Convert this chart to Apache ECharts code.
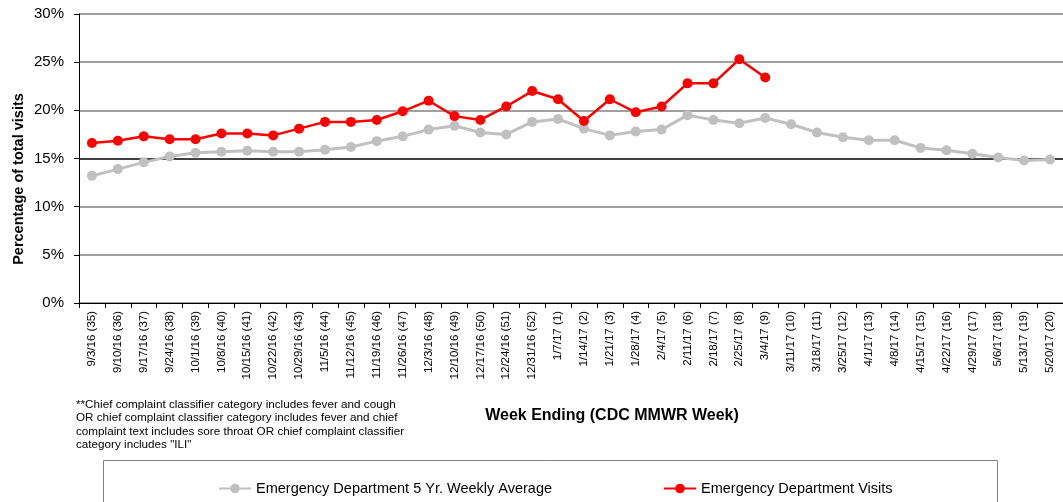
<!DOCTYPE html>
<html>
<head>
<meta charset="utf-8">
<script src="https://cdn.jsdelivr.net/npm/echarts@6/dist/echarts.min.js"></script>
<style>html,body{margin:0;padding:0;background:#fff;}#c{width:1063px;height:502px;}</style>
</head>
<body>
<div id="c"></div>
<script>
var categories = ['9/3/16 (35)','9/10/16 (36)','9/17/16 (37)','9/24/16 (38)','10/1/16 (39)','10/8/16 (40)','10/15/16 (41)','10/22/16 (42)','10/29/16 (43)','11/5/16 (44)','11/12/16 (45)','11/19/16 (46)','11/26/16 (47)','12/3/16 (48)','12/10/16 (49)','12/17/16 (50)','12/24/16 (51)','12/31/16 (52)','1/7/17 (1)','1/14/17 (2)','1/21/17 (3)','1/28/17 (4)','2/4/17 (5)','2/11/17 (6)','2/18/17 (7)','2/25/17 (8)','3/4/17 (9)','3/11/17 (10)','3/18/17 (11)','3/25/17 (12)','4/1/17 (13)','4/8/17 (14)','4/15/17 (15)','4/22/17 (16)','4/29/17 (17)','5/6/17 (18)','5/13/17 (19)','5/20/17 (20)'];
var avgValues = [13.2,13.9,14.6,15.2,15.6,15.7,15.8,15.7,15.7,15.9,16.2,16.8,17.3,18.0,18.4,17.7,17.5,18.8,19.1,18.1,17.4,17.8,18.0,19.5,19.0,18.65,19.2,18.55,17.7,17.2,16.9,16.9,16.1,15.85,15.5,15.1,14.8,14.9];
var visitValues = [16.6,16.85,17.3,17.0,17.0,17.6,17.6,17.4,18.1,18.8,18.8,19.0,19.9,21.0,19.4,19.0,20.4,22.0,21.15,18.9,21.15,19.8,20.4,22.8,22.8,25.3,23.4];
var seriesNames = ['Emergency Department 5 Yr. Weekly Average','Emergency Department Visits'];
var yAxisTitle = 'Percentage of total visits';
var xAxisTitle = 'Week Ending (CDC MMWR Week)';
var footnote = '**Chief complaint classifier category includes fever and cough\nOR chief complaint classifier category includes fever and chief\ncomplaint text includes sore throat OR chief complaint classifier\ncategory includes "ILI"';

var FONT = 'Liberation Sans, Arial, sans-serif';
var chart = echarts.init(document.getElementById('c'), null, {renderer:'canvas'});
chart.setOption({
  animation: false,
  backgroundColor: '#fff',
  grid: {left: 79, right: 0, top: 14, bottom: 199, containLabel: false},
  xAxis: {
    type: 'category',
    data: categories,
    boundaryGap: true,
    axisLine: {lineStyle: {color: '#000', width: 1}},
    axisTick: {show: true, length: 5, lineStyle: {color: '#000'}, alignWithLabel: false},
    axisLabel: {rotate: 90, interval: 0, margin: 8, color: '#000', fontSize: 11.5, fontFamily: FONT}
  },
  yAxis: {
    type: 'value',
    min: 0, max: 30, interval: 5,
    axisLine: {show: true, lineStyle: {color: '#000', width: 1}},
    axisTick: {show: true, length: 5, lineStyle: {color: '#000'}},
    axisLabel: {formatter: '{value}%', color: '#000', fontSize: 15, fontFamily: FONT, margin: 15},
    splitLine: {show: true, lineStyle: {color: ['#808080','#808080','#808080','#000000','#808080','#808080','#808080'], width: 1.5}}
  },
  legend: [
    {data: [seriesNames[0]], left: 213, top: 476, itemWidth: 32, itemHeight: 12, itemGap: 4, textStyle: {fontSize: 14.5, fontFamily: FONT, color: '#000'}},
    {data: [seriesNames[1]], left: 658, top: 476, itemWidth: 32, itemHeight: 12, itemGap: 4, textStyle: {fontSize: 14.5, fontFamily: FONT, color: '#000'}}
  ],
  graphic: [
    {type: 'text', x: 19, y: 179, rotation: Math.PI / 2,
     style: {text: yAxisTitle, font: 'bold 14.5px ' + FONT, fill: '#000', textAlign: 'center', textVerticalAlign: 'middle'}},
    {type: 'text', x: 612, y: 416,
     style: {text: xAxisTitle, font: 'bold 16px ' + FONT, fill: '#000', textAlign: 'center', textVerticalAlign: 'middle'}},
    {type: 'text', x: 76, y: 398,
     style: {text: footnote, font: '11.7px ' + FONT, fill: '#000', lineHeight: 13.5, textAlign: 'left', textVerticalAlign: 'top'}},
    {type: 'rect', shape: {x: 103.5, y: 460.5, width: 894, height: 60},
     style: {fill: 'none', stroke: '#808080', lineWidth: 1}, z: -1}
  ],
  series: [
    {name: seriesNames[0], type: 'line', data: avgValues, symbol: 'circle', symbolSize: 10,
     lineStyle: {color: '#c0c0c0', width: 3}, itemStyle: {color: '#c0c0c0'}, z: 2},
    {name: seriesNames[1], type: 'line', data: visitValues, symbol: 'circle', symbolSize: 10,
     lineStyle: {color: '#ff0000', width: 2.5}, itemStyle: {color: '#ff0000'}, z: 3}
  ]
});
</script>
</body>
</html>
